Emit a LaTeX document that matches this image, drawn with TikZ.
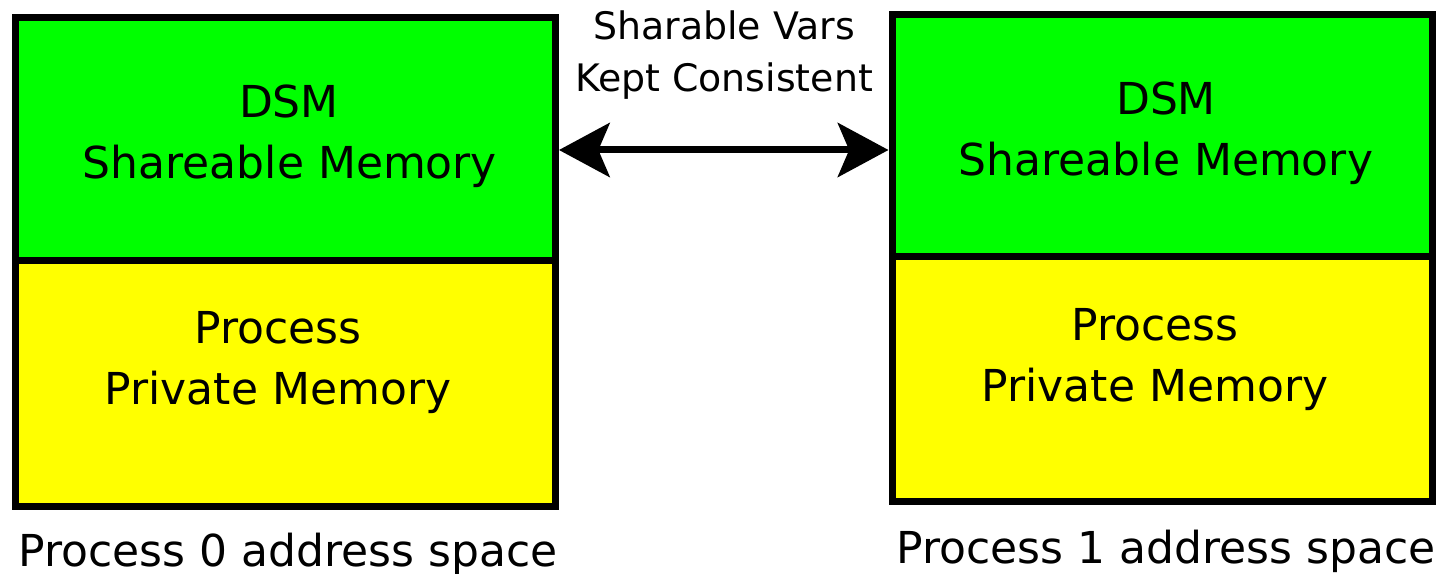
\documentclass[tikz,border=0pt]{standalone}
\usepackage{fontspec}
\setmainfont{DejaVu Sans}
\usetikzlibrary{arrows.meta}
\definecolor{dsmgreen}{HTML}{00FF00}
\definecolor{privyellow}{HTML}{FFFF00}
\tikzset{
  membox/.style={draw=black, line width=5.25pt, inner sep=0pt,
    minimum width=405pt, anchor=center},
  bigtext/.style={anchor=base, inner sep=0pt, font=\fontsize{33}{39}\selectfont},
  smalltext/.style={anchor=base, inner sep=0pt, font=\fontsize{28.4}{34}\selectfont},
  syncarrow/.style={line width=5.25pt,
    {Stealth[length=38pt, width=40.5pt, inset=8.5pt]}-{Stealth[length=38pt, width=40.5pt, inset=8.5pt]}}
}
\begin{document}
\begin{tikzpicture}[x=0.75pt, y=-0.75pt]
  \useasboundingbox (0,0) rectangle (1439,574);

  % Process 0 address space
  \node[membox, fill=dsmgreen, minimum height=181.9pt] (dsmL) at (285.5,138.75) {};
  \node[membox, fill=privyellow, minimum height=184.5pt] (privL) at (285.5,383) {};

  % Process 1 address space
  \node[membox, fill=dsmgreen, minimum height=181.5pt] (dsmR) at (1162,136) {};
  \node[membox, fill=privyellow, minimum height=183.4pt] (privR) at (1162,379.25) {};

  % labels inside the boxes
  \node[bigtext] (dsmLa) at (289,118) {DSM};
  \node[bigtext] (dsmLb) at (290,179) {Shareable Memory};
  \node[bigtext] (privLa) at (278,343.5) {Process};
  \node[bigtext] (privLb) at (278,404) {Private Memory};

  \node[bigtext] (dsmRa) at (1166,114.5) {DSM};
  \node[bigtext] (dsmRb) at (1166,175.5) {Shareable Memory};
  \node[bigtext] (privRa) at (1155,340.5) {Process};
  \node[bigtext] (privRb) at (1155,401) {Private Memory};

  % captions under the boxes
  \node[bigtext] (capL) at (288,566) {Process 0 address space};
  \node[bigtext] (capR) at (1166,563) {Process 1 address space};

  % consistency link between the shared regions
  \coordinate (ay) at (0,150);
  \draw[syncarrow] (dsmL.east |- ay) -- (dsmR.west |- ay);
  \node[smalltext] (linkA) at (724,40) {Sharable Vars};
  \node[smalltext] (linkB) at (724,92) {Kept Consistent};
\end{tikzpicture}
\end{document}
